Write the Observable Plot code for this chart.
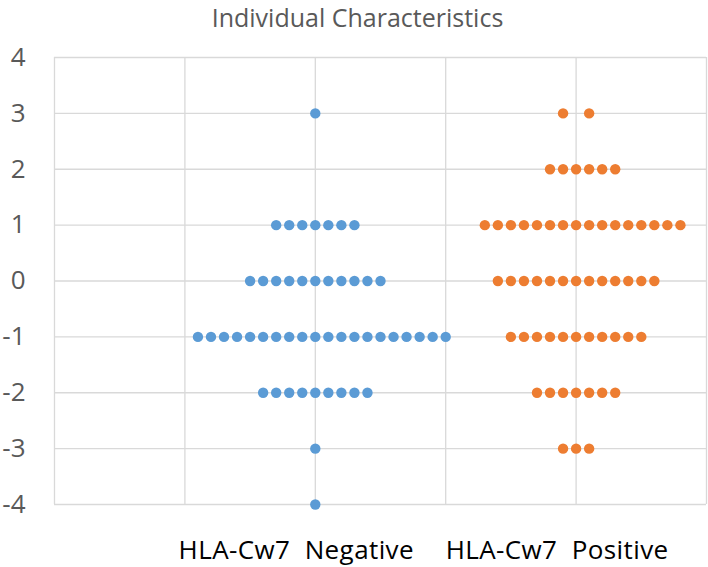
<!DOCTYPE html>
<html>
<head>
<meta charset="utf-8">
<script src="https://cdn.jsdelivr.net/npm/d3@7"></script>
<script src="https://cdn.jsdelivr.net/npm/@observablehq/plot@0.6"></script>
<style>
  html, body { margin: 0; padding: 0; background: #fff; }
  #wrap { position: relative; width: 708px; height: 567px; overflow: hidden; }
  #title { position: absolute; left: 0; top: 0; width: 708px; box-sizing: border-box; padding-left: 7px;
           text-align: center; line-height: normal;
           font-family: "Open Sans", sans-serif; font-size: 25px; color: #595959; z-index: 2; }
  svg { display: block; }
</style>
</head>
<body>
<div id="wrap">
  <div id="title"></div>
</div>
<script>
const title = "Individual Characteristics";
const groups = ["HLA-Cw7  Negative", "HLA-Cw7  Positive"];
const groupX = [2, 4];
const colors = ["#5B9BD5", "#ED7D31"];
const yTicks = [4, 3, 2, 1, 0, -1, -2, -3, -4];
const scores = [3, 2, 1, 0, -1, -2, -3, -4];
// horizontal offsets (in steps of 0.1 x-units) of each dot, per score row
const negativeOffsets = [
  [0],
  [],
  [-3, -2, -1, 0, 1, 2, 3],
  [-5, -4, -3, -2, -1, 0, 1, 2, 3, 4, 5],
  [-9, -8, -7, -6, -5, -4, -3, -2, -1, 0, 1, 2, 3, 4, 5, 6, 7, 8, 9, 10],
  [-4, -3, -2, -1, 0, 1, 2, 3, 4],
  [0],
  [0]
];
const positiveOffsets = [
  [-1, 1],
  [-2, -1, 0, 1, 2, 3],
  [-7, -6, -5, -4, -3, -2, -1, 0, 1, 2, 3, 4, 5, 6, 7, 8],
  [-6, -5, -4, -3, -2, -1, 0, 1, 2, 3, 4, 5, 6],
  [-5, -4, -3, -2, -1, 0, 1, 2, 3, 4, 5],
  [-3, -2, -1, 0, 1, 2, 3],
  [-1, 0, 1],
  []
];

document.getElementById("title").textContent = title;

const rows = [];
[negativeOffsets, positiveOffsets].forEach((offs, g) => {
  scores.forEach((s, i) => {
    offs[i].forEach(o => rows.push({group: groups[g], x: groupX[g] + o * 0.1, y: s}));
  });
});
const labels = groups.map((g, i) => ({label: g, x: groupX[i]}));

const chart = Plot.plot({
  width: 708,
  height: 567,
  marginLeft: 54,
  marginRight: 2,
  marginTop: 57,
  marginBottom: 63,
  style: {fontFamily: "Open Sans, sans-serif", background: "#fff"},
  x: {domain: [0, 5], axis: null},
  y: {domain: [-4, 4], axis: null},
  color: {domain: groups, range: colors},
  marks: [
    Plot.gridX([0, 1, 2, 3, 4, 5], {stroke: "#d9d9d9", strokeOpacity: 1, strokeWidth: 1.3}),
    Plot.gridY(yTicks, {stroke: "#d9d9d9", strokeOpacity: 1, strokeWidth: 1.3}),
    Plot.axisY(yTicks, {label: null, tickSize: 0, tickPadding: 29, fontSize: 26, fill: "#595959", tickFormat: d => String(d).replace("\u2212", "-")}),
    Plot.dot(rows, {x: "x", y: "y", fill: "group", r: 5.2, stroke: null}),
    Plot.text(labels, {x: "x", text: "label", frameAnchor: "bottom", dy: 54, dx: -19, fontSize: 26, fill: "#000"})
  ]
});
chart.querySelectorAll("text").forEach(t => { if (groups.includes(t.textContent)) t.style.letterSpacing = "0.4px"; });
document.getElementById("wrap").appendChild(chart);
</script>
</body>
</html>
